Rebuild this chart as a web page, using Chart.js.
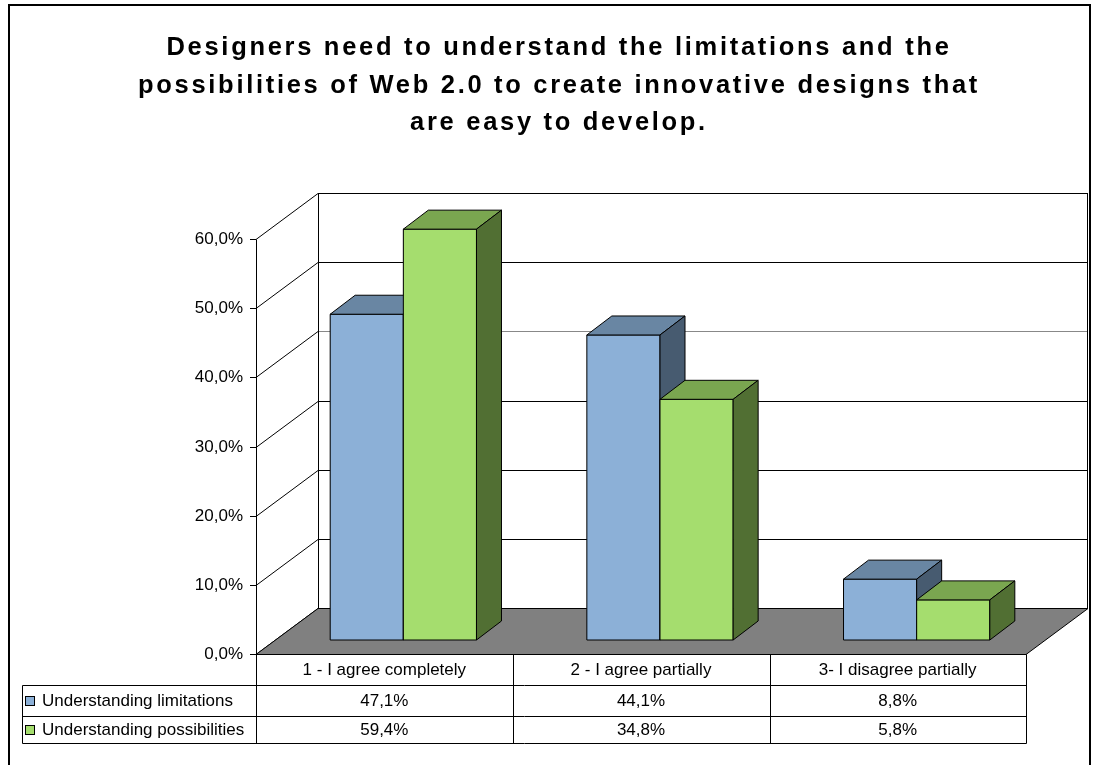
<!DOCTYPE html>
<html>
<head>
<meta charset="utf-8">
<title>Web 2.0 survey</title>
<script src="https://cdn.jsdelivr.net/npm/chart.js@4"></script>
<style>
  body { margin: 0; background: #fff; }
  canvas { display: block; }
</style>
</head>
<body>
<canvas id="chart" width="1094" height="765"></canvas>
<script>
var titleLines = [
  'Designers need to understand the limitations and the',
  'possibilities of Web 2.0 to create innovative designs that',
  'are easy to develop.'
];
var categories = ['1 - I agree completely', '2 - I agree partially', '3- I disagree partially'];
var seriesNames = ['Understanding limitations', 'Understanding possibilities'];
var limitations = [47.1, 44.1, 8.8];
var possibilities = [59.4, 34.8, 5.8];

// colours: front, top, side
var blue = ['#8cb0d7', '#6986a3', '#475b70'];
var green = ['#a5dd6e', '#7aa650', '#516f33'];

// 3d offsets (bar plane = chart area)
var FRONT = { x: -19, y: 14 };   // front plane of the box
var BACK = { x: 43, y: -32 };    // back wall
var DEPTH = { x: 25, y: -19 };   // depth of one bar
var FONT = '"Liberation Sans", Arial, sans-serif';

function pct(v) {
  return v.toFixed(1).replace('.', ',') + '%';
}

function poly(c, pts, fill) {
  c.beginPath();
  c.moveTo(pts[0][0], pts[0][1]);
  for (var i = 1; i < pts.length; i++) c.lineTo(pts[i][0], pts[i][1]);
  c.closePath();
  if (fill) { c.fillStyle = fill; c.fill(); }
  c.stroke();
}

var box3d = {
  id: 'box3d',
  beforeDatasetsDraw: function(chart) {
    var c = chart.ctx, a = chart.chartArea, y = chart.scales.y;
    c.save();
    c.lineWidth = 1;
    c.strokeStyle = '#000';
    var ticks = y.ticks.map(function(t) { return t.value; });
    var fl = a.left + FRONT.x, bl = a.left + BACK.x, br = a.right + BACK.x;
    // back wall gridlines + left wall diagonals
    ticks.forEach(function(v) {
      var py = Math.round(y.getPixelForValue(v)) + 0.5;
      c.strokeStyle = v === 40 ? '#888' : '#000';
      c.beginPath();
      c.moveTo(bl, py + BACK.y);
      c.lineTo(br, py + BACK.y);
      c.stroke();
      c.strokeStyle = '#000';
      c.beginPath();
      c.moveTo(fl, py + FRONT.y);
      c.lineTo(bl, py + BACK.y);
      c.stroke();
    });
    var top = Math.round(y.getPixelForValue(ticks[ticks.length - 1])) + 0.5;
    var bot = Math.round(y.getPixelForValue(0)) + 0.5;
    c.beginPath();
    c.moveTo(bl + 0.5, top + BACK.y); c.lineTo(bl + 0.5, bot + BACK.y);
    c.moveTo(br - 0.5, top + BACK.y); c.lineTo(br - 0.5, bot + BACK.y);
    c.moveTo(fl + 0.5, top + FRONT.y); c.lineTo(fl + 0.5, bot + FRONT.y);
    c.stroke();
    // floor
    poly(c, [[fl, bot + FRONT.y], [a.right + FRONT.x, bot + FRONT.y],
             [br, bot + BACK.y], [bl, bot + BACK.y]], '#808080');
    // y ticks + labels
    c.font = '17px ' + FONT;
    c.fillStyle = '#000';
    c.textAlign = 'right';
    c.textBaseline = 'middle';
    ticks.forEach(function(v) {
      var py = Math.round(y.getPixelForValue(v)) + 0.5 + FRONT.y;
      c.beginPath();
      c.moveTo(fl - 6, py); c.lineTo(fl, py);
      c.stroke();
      c.fillText(pct(v), fl - 13, py);
    });
    c.restore();
  },
  afterDatasetsDraw: function(chart) {
    var c = chart.ctx;
    var metas = chart.data.datasets.map(function(ds, k) { return chart.getDatasetMeta(k); });
    c.save();
    c.lineWidth = 1;
    c.strokeStyle = '#000';
    // draw group by group, series left to right, so the right bar hides its neighbour's side
    chart.data.labels.forEach(function(lbl, j) {
      metas.forEach(function(meta, k) {
        var cols = chart.data.datasets[k].faces;
        var bar = meta.data[j];
        var l = bar.x - bar.width / 2, r = bar.x + bar.width / 2;
        var t = bar.y, b = bar.base;
        poly(c, [[l, t], [r, t], [r, b], [l, b]], cols[0]);
        poly(c, [[l, t], [r, t], [r + DEPTH.x, t + DEPTH.y], [l + DEPTH.x, t + DEPTH.y]], cols[1]);
        poly(c, [[r, t], [r + DEPTH.x, t + DEPTH.y], [r + DEPTH.x, b + DEPTH.y], [r, b]], cols[2]);
      });
    });
    c.restore();
  },
  afterDraw: function(chart) {
    var c = chart.ctx, a = chart.chartArea, x = chart.scales.x, y = chart.scales.y;
    c.save();
    // outer frame
    c.lineWidth = 2;
    c.strokeStyle = '#000';
    c.strokeRect(9, 5, 1081, 780);
    // title
    c.fillStyle = '#000';
    c.font = 'bold 25.5px ' + FONT;
    c.letterSpacing = '2.7px';
    c.textAlign = 'center';
    c.textBaseline = 'middle';
    titleLines.forEach(function(s, i) {
      c.fillText(s, 559, 48 + i * 37.5);
    });
    c.letterSpacing = '0px';
    // data table
    c.lineWidth = 1;
    var fl = a.left + FRONT.x + 0.5;
    var fr = a.right + FRONT.x + 0.5;
    var y0 = Math.round(y.getPixelForValue(0)) + FRONT.y + 0.5;
    var rows = [y0, y0 + 31, y0 + 62, y0 + 89];
    var legL = 22.5;
    var w = (a.right - a.left) / categories.length;
    c.beginPath();
    c.moveTo(fl, rows[0]); c.lineTo(fl, rows[3]);
    c.moveTo(fr, rows[0]); c.lineTo(fr, rows[3]);
    for (var i = 1; i < categories.length; i++) {
      var cx = Math.round(fl + i * w) + 0.5;
      c.moveTo(cx, rows[0]); c.lineTo(cx, rows[3]);
    }
    c.moveTo(fl, rows[0]); c.lineTo(fr, rows[0]);
    c.moveTo(legL, rows[1]); c.lineTo(fr, rows[1]);
    c.moveTo(legL, rows[2]); c.lineTo(fr, rows[2]);
    c.moveTo(legL, rows[3]); c.lineTo(fr, rows[3]);
    c.moveTo(legL, rows[1]); c.lineTo(legL, rows[3]);
    c.stroke();
    c.font = '17px ' + FONT;
    c.fillStyle = '#000';
    categories.forEach(function(cat, j) {
      var cx = x.getPixelForValue(j) + FRONT.x;
      c.fillText(cat, cx, (rows[0] + rows[1]) / 2);
      chart.data.datasets.forEach(function(ds, k) {
        c.fillText(pct(ds.data[j]), cx, (rows[k + 1] + rows[k + 2]) / 2);
      });
    });
    c.textAlign = 'left';
    chart.data.datasets.forEach(function(ds, k) {
      var my = (rows[k + 1] + rows[k + 2]) / 2;
      c.fillStyle = ds.faces[0];
      c.fillRect(26, Math.round(my) - 4, 8, 8);
      c.strokeStyle = '#000';
      c.strokeRect(25.5, Math.round(my) - 4.5, 9, 9);
      c.fillStyle = '#000';
      c.fillText(ds.label, 42, my);
    });
    c.restore();
  }
};

var ctx = document.getElementById('chart').getContext('2d');

var myChart = new Chart(ctx, {
  type: 'bar',
  data: {
    labels: categories,
    datasets: [{
      label: seriesNames[0],
      data: limitations,
      backgroundColor: blue[0],
      faces: blue,
      borderColor: '#000',
      borderWidth: 1,
      borderSkipped: false
    }, {
      label: seriesNames[1],
      data: possibilities,
      backgroundColor: green[0],
      faces: green,
      borderColor: '#000',
      borderWidth: 1,
      borderSkipped: false
    }]
  },
  options: {
    responsive: false,
    animation: false,
    layout: {
      padding: { left: 275, right: 49, top: 225, bottom: 125 }
    },
    scales: {
      x: { display: false },
      y: { display: false, min: 0, max: 60, ticks: { stepSize: 10 } }
    },
    categoryPercentage: 0.57,
    barPercentage: 1,
    plugins: {
      legend: { display: false },
      tooltip: { enabled: false }
    }
  },
  plugins: [box3d]
});
</script>
</body>
</html>
